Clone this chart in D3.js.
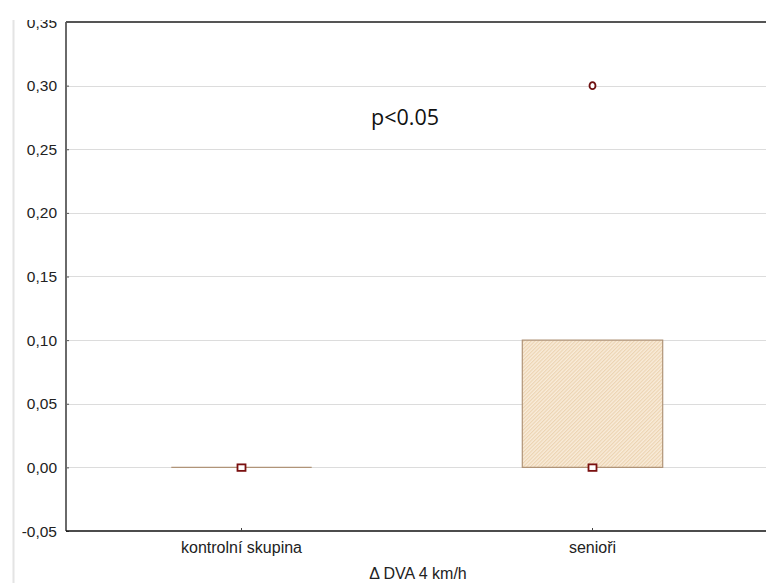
<!DOCTYPE html>
<html>
<head>
<meta charset="utf-8">
<script src="https://cdn.jsdelivr.net/npm/d3@7"></script>
<style>
  html, body { margin: 0; padding: 0; background: #fff; }
  svg { display: block; }
</style>
</head>
<body>
<div id="chart"></div>
<script>
// Box-plot summary per group
const categories = ["kontrolní skupina", "senioři"];
const q1Values = [0.00, 0.00];
const q3Values = [0.00, 0.10];
const medianValues = [0.00, 0.00];
const whiskerLow = [0.00, 0.00];
const whiskerHigh = [0.00, 0.10];
const outliers = [[], [0.30]];
const yTicks = [-0.05, 0.00, 0.05, 0.10, 0.15, 0.20, 0.25, 0.30, 0.35];
const xTitle = "Δ DVA 4 km/h";
const annotation = "p<0.05";

const W = 766, H = 583;
const plot = { left: 66, right: 768, top: 22, bottom: 531 };
const FONT = "Liberation Sans, Arial, sans-serif";

const svg = d3.select("#chart").append("svg")
  .attr("width", W).attr("height", H);

const defs = svg.append("defs");
defs.append("clipPath").attr("id", "pageClip")
  .append("rect").attr("x", 0).attr("y", 20).attr("width", W).attr("height", H - 20);

const hatch = defs.append("pattern")
  .attr("id", "hatch")
  .attr("patternUnits", "userSpaceOnUse")
  .attr("width", 2.6).attr("height", 2.6)
  .attr("patternTransform", "rotate(45)");
hatch.append("rect").attr("width", 2.6).attr("height", 2.6).attr("fill", "#f9ecda");
hatch.append("line").attr("x1", 0.6).attr("y1", 0).attr("x2", 0.6).attr("y2", 2.6)
  .attr("stroke", "#ecd3b0").attr("stroke-width", 1.1);

const root = svg.append("g").attr("clip-path", "url(#pageClip)");

// faint frame line at the far left
root.append("line")
  .attr("x1", 13.5).attr("x2", 13.5).attr("y1", 18).attr("y2", H)
  .attr("stroke", "#e4e4e4").attr("stroke-width", 2);

const x = d3.scaleBand().domain(categories)
  .range([plot.left, plot.right]).paddingInner(0).paddingOuter(0);
const y = d3.scaleLinear().domain([-0.05, 0.35]).range([plot.bottom, plot.top]);

const fmt = v => d3.format(".2f")(v).replace(".", ",").replace("−", "-");

// horizontal gridlines
root.append("g").selectAll("line").data(yTicks.filter(t => t > -0.05 && t < 0.35))
  .join("line")
  .attr("x1", plot.left).attr("x2", plot.right)
  .attr("y1", d => Math.round(y(d)) + 0.5).attr("y2", d => Math.round(y(d)) + 0.5)
  .attr("stroke", "#dcdcdc").attr("stroke-width", 1);

// y axis
const yAxis = root.append("g")
  .attr("transform", `translate(${plot.left},0)`)
  .call(d3.axisRight(y).tickValues(yTicks).tickSize(3).tickFormat(""));
yAxis.select(".domain").remove();
yAxis.selectAll(".tick line").attr("stroke", "#555");

root.append("g").selectAll("text").data(yTicks).join("text")
  .attr("x", 57).attr("y", d => y(d))
  .attr("dy", "0.36em")
  .attr("text-anchor", "end")
  .attr("font-family", FONT)
  .attr("font-size", 15.5)
  .attr("fill", "#222")
  .text(fmt);

// frame lines
root.append("line")
  .attr("x1", plot.left).attr("x2", plot.left)
  .attr("y1", plot.top).attr("y2", plot.bottom)
  .attr("stroke", "#6a6a6a").attr("stroke-width", 2);
root.append("line")
  .attr("x1", plot.left).attr("x2", plot.right)
  .attr("y1", plot.top).attr("y2", plot.top)
  .attr("stroke", "#555").attr("stroke-width", 2);

// x axis
const xAxis = root.append("g")
  .attr("transform", `translate(0,${plot.bottom})`)
  .call(d3.axisTop(x).tickSize(3).tickFormat(""));
xAxis.select(".domain").attr("stroke", "#111").attr("stroke-width", 1.6)
  .attr("d", `M${plot.left},0H${plot.right}`);
xAxis.selectAll(".tick line").attr("stroke", "#444");

root.append("g").selectAll("text").data(categories).join("text")
  .attr("x", d => x(d) + x.bandwidth() / 2)
  .attr("y", 553)
  .attr("text-anchor", "middle")
  .attr("font-family", FONT)
  .attr("font-size", 16)
  .attr("fill", "#222")
  .text(d => d);

root.append("text")
  .attr("x", 418).attr("y", 579)
  .attr("text-anchor", "middle")
  .attr("font-family", FONT)
  .attr("font-size", 16)
  .attr("fill", "#222")
  .text(xTitle);

// boxes
const boxW = x.bandwidth() * 0.4;
const groups = categories.map((c, i) => ({
  c, q1: q1Values[i], q3: q3Values[i], med: medianValues[i],
  lo: whiskerLow[i], hi: whiskerHigh[i], out: outliers[i]
}));
const cx = d => x(d.c) + x.bandwidth() / 2;

const g = root.append("g");
g.selectAll("line.whisker").data(groups).join("line")
  .attr("class", "whisker")
  .attr("x1", cx).attr("x2", cx)
  .attr("y1", d => y(d.lo)).attr("y2", d => y(d.hi))
  .attr("stroke", "#a89078");

// box drawn as a closed path so a zero-height box still shows as a line
g.selectAll("path.box").data(groups).join("path")
  .attr("class", "box")
  .attr("d", d => {
    const x0 = cx(d) - boxW / 2, x1 = cx(d) + boxW / 2;
    const y0 = y(d.q3), y1 = y(d.q1);
    return `M${x0},${y0}H${x1}V${y1}H${x0}Z`;
  })
  .attr("fill", "url(#hatch)")
  .attr("stroke", "#b09478").attr("stroke-width", 1.2);

// median markers
g.selectAll("rect.median").data(groups).join("rect")
  .attr("class", "median")
  .attr("x", d => cx(d) - 4).attr("y", d => y(d.med) - 3)
  .attr("width", 8).attr("height", 6.5)
  .attr("fill", "#fff").attr("stroke", "#7a1010").attr("stroke-width", 1.8);

// outliers
const outPts = groups.flatMap(d => d.out.map(v => ({ c: d.c, v })));
g.selectAll("ellipse.outlier").data(outPts).join("ellipse")
  .attr("class", "outlier")
  .attr("cx", d => x(d.c) + x.bandwidth() / 2)
  .attr("cy", d => y(d.v))
  .attr("rx", 3).attr("ry", 3.5)
  .attr("fill", "#fff").attr("stroke", "#6e1010").attr("stroke-width", 1.8);

// annotation
root.append("text")
  .attr("x", 405).attr("y", 125)
  .attr("text-anchor", "middle")
  .attr("font-family", "Open Sans, sans-serif")
  .attr("font-size", 21.5)
  .attr("fill", "#111")
  .text(annotation);
</script>
</body>
</html>
